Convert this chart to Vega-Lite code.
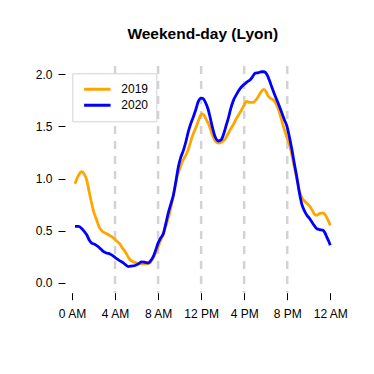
{
  "$schema": "https://vega.github.io/schema/vega-lite/v6.json",
  "autosize": "none",
  "width": 275.5,
  "height": 226.7,
  "padding": {"left": 65, "top": 66, "right": 33.5, "bottom": 81.3},
  "background": "white",
  "title": {"text": "Weekend-day (Lyon)", "fontSize": 15.5, "fontWeight": "bold", "font": "Liberation Sans", "color": "black", "offset": 22, "anchor": "middle"},
  "config": {
    "font": "Liberation Sans",
    "view": {"stroke": null},
    "axis": {"grid": false, "domain": false, "tickColor": "black", "tickWidth": 1, "tickSize": 7, "labelColor": "black", "labelFont": "Liberation Sans", "labelFontSize": 12, "title": null}
  },
  "layer": [
    {
      "data": {"values": [{"hour": 4}, {"hour": 8}, {"hour": 12}, {"hour": 16}, {"hour": 20}]},
      "mark": {"type": "rule", "color": "#D3D3D3", "strokeWidth": 2.5, "strokeDash": [8, 7]},
      "encoding": {"x": {"field": "hour", "type": "quantitative", "scale": {"domain": [-0.65, 24.95], "nice": false, "zero": false}}}
    },
    {
      "data": {"values": [
        {"hour": 0.28, "value": 0.95, "year": "2019"}, {"hour": 0.6, "value": 1.03, "year": "2019"}, {"hour": 0.9, "value": 1.065, "year": "2019"}, {"hour": 1.15, "value": 1.04, "year": "2019"}, {"hour": 1.37, "value": 0.985, "year": "2019"}, {"hour": 1.6, "value": 0.87, "year": "2019"}, {"hour": 1.83, "value": 0.76, "year": "2019"}, {"hour": 2.05, "value": 0.67, "year": "2019"}, {"hour": 2.3, "value": 0.6, "year": "2019"}, {"hour": 2.5, "value": 0.54, "year": "2019"}, {"hour": 2.76, "value": 0.5, "year": "2019"}, {"hour": 3.23, "value": 0.47, "year": "2019"}, {"hour": 3.55, "value": 0.45, "year": "2019"}, {"hour": 3.84, "value": 0.43, "year": "2019"}, {"hour": 4.15, "value": 0.4, "year": "2019"}, {"hour": 4.46, "value": 0.37, "year": "2019"}, {"hour": 4.7, "value": 0.33, "year": "2019"}, {"hour": 4.93, "value": 0.3, "year": "2019"}, {"hour": 5.15, "value": 0.26, "year": "2019"}, {"hour": 5.39, "value": 0.22, "year": "2019"}, {"hour": 5.7, "value": 0.2, "year": "2019"}, {"hour": 6.0, "value": 0.19, "year": "2019"}, {"hour": 6.3, "value": 0.18, "year": "2019"}, {"hour": 6.63, "value": 0.18, "year": "2019"}, {"hour": 6.95, "value": 0.18, "year": "2019"}, {"hour": 7.25, "value": 0.19, "year": "2019"}, {"hour": 7.5, "value": 0.23, "year": "2019"}, {"hour": 7.7, "value": 0.27, "year": "2019"}, {"hour": 7.95, "value": 0.33, "year": "2019"}, {"hour": 8.18, "value": 0.39, "year": "2019"}, {"hour": 8.5, "value": 0.48, "year": "2019"}, {"hour": 8.8, "value": 0.57, "year": "2019"}, {"hour": 9.05, "value": 0.66, "year": "2019"}, {"hour": 9.27, "value": 0.76, "year": "2019"}, {"hour": 9.5, "value": 0.88, "year": "2019"}, {"hour": 9.73, "value": 1.0, "year": "2019"}, {"hour": 10.0, "value": 1.09, "year": "2019"}, {"hour": 10.2, "value": 1.15, "year": "2019"}, {"hour": 10.45, "value": 1.2, "year": "2019"}, {"hour": 10.66, "value": 1.24, "year": "2019"}, {"hour": 10.9, "value": 1.31, "year": "2019"}, {"hour": 11.13, "value": 1.39, "year": "2019"}, {"hour": 11.35, "value": 1.45, "year": "2019"}, {"hour": 11.59, "value": 1.51, "year": "2019"}, {"hour": 11.8, "value": 1.57, "year": "2019"}, {"hour": 12.05, "value": 1.62, "year": "2019"}, {"hour": 12.25, "value": 1.61, "year": "2019"}, {"hour": 12.5, "value": 1.56, "year": "2019"}, {"hour": 12.75, "value": 1.51, "year": "2019"}, {"hour": 13.0, "value": 1.43, "year": "2019"}, {"hour": 13.2, "value": 1.38, "year": "2019"}, {"hour": 13.4, "value": 1.35, "year": "2019"}, {"hour": 13.6, "value": 1.34, "year": "2019"}, {"hour": 13.9, "value": 1.35, "year": "2019"}, {"hour": 14.2, "value": 1.375, "year": "2019"}, {"hour": 14.45, "value": 1.42, "year": "2019"}, {"hour": 14.68, "value": 1.465, "year": "2019"}, {"hour": 15.0, "value": 1.52, "year": "2019"}, {"hour": 15.3, "value": 1.58, "year": "2019"}, {"hour": 15.6, "value": 1.63, "year": "2019"}, {"hour": 15.92, "value": 1.69, "year": "2019"}, {"hour": 16.23, "value": 1.74, "year": "2019"}, {"hour": 16.5, "value": 1.73, "year": "2019"}, {"hour": 16.85, "value": 1.73, "year": "2019"}, {"hour": 17.05, "value": 1.75, "year": "2019"}, {"hour": 17.3, "value": 1.785, "year": "2019"}, {"hour": 17.55, "value": 1.83, "year": "2019"}, {"hour": 17.84, "value": 1.855, "year": "2019"}, {"hour": 18.05, "value": 1.83, "year": "2019"}, {"hour": 18.24, "value": 1.79, "year": "2019"}, {"hour": 18.45, "value": 1.77, "year": "2019"}, {"hour": 18.7, "value": 1.755, "year": "2019"}, {"hour": 18.95, "value": 1.72, "year": "2019"}, {"hour": 19.17, "value": 1.67, "year": "2019"}, {"hour": 19.4, "value": 1.59, "year": "2019"}, {"hour": 19.64, "value": 1.5, "year": "2019"}, {"hour": 19.95, "value": 1.4, "year": "2019"}, {"hour": 20.26, "value": 1.305, "year": "2019"}, {"hour": 20.5, "value": 1.19, "year": "2019"}, {"hour": 20.72, "value": 1.08, "year": "2019"}, {"hour": 20.95, "value": 0.97, "year": "2019"}, {"hour": 21.19, "value": 0.86, "year": "2019"}, {"hour": 21.4, "value": 0.81, "year": "2019"}, {"hour": 21.65, "value": 0.78, "year": "2019"}, {"hour": 21.9, "value": 0.755, "year": "2019"}, {"hour": 22.12, "value": 0.73, "year": "2019"}, {"hour": 22.35, "value": 0.69, "year": "2019"}, {"hour": 22.58, "value": 0.65, "year": "2019"}, {"hour": 22.8, "value": 0.65, "year": "2019"}, {"hour": 23.05, "value": 0.665, "year": "2019"}, {"hour": 23.25, "value": 0.67, "year": "2019"}, {"hour": 23.42, "value": 0.665, "year": "2019"}, {"hour": 23.7, "value": 0.62, "year": "2019"}, {"hour": 24.0, "value": 0.55, "year": "2019"},
        {"hour": 0.28, "value": 0.54, "year": "2020"}, {"hour": 0.6, "value": 0.54, "year": "2020"}, {"hour": 0.9, "value": 0.52, "year": "2020"}, {"hour": 1.15, "value": 0.49, "year": "2020"}, {"hour": 1.37, "value": 0.46, "year": "2020"}, {"hour": 1.6, "value": 0.41, "year": "2020"}, {"hour": 1.83, "value": 0.38, "year": "2020"}, {"hour": 2.1, "value": 0.37, "year": "2020"}, {"hour": 2.45, "value": 0.345, "year": "2020"}, {"hour": 2.7, "value": 0.32, "year": "2020"}, {"hour": 2.9, "value": 0.3, "year": "2020"}, {"hour": 3.2, "value": 0.285, "year": "2020"}, {"hour": 3.53, "value": 0.275, "year": "2020"}, {"hour": 3.85, "value": 0.255, "year": "2020"}, {"hour": 4.15, "value": 0.23, "year": "2020"}, {"hour": 4.45, "value": 0.21, "year": "2020"}, {"hour": 4.77, "value": 0.19, "year": "2020"}, {"hour": 5.0, "value": 0.17, "year": "2020"}, {"hour": 5.23, "value": 0.155, "year": "2020"}, {"hour": 5.55, "value": 0.16, "year": "2020"}, {"hour": 5.86, "value": 0.165, "year": "2020"}, {"hour": 6.15, "value": 0.18, "year": "2020"}, {"hour": 6.48, "value": 0.2, "year": "2020"}, {"hour": 6.8, "value": 0.195, "year": "2020"}, {"hour": 7.1, "value": 0.19, "year": "2020"}, {"hour": 7.3, "value": 0.21, "year": "2020"}, {"hour": 7.55, "value": 0.25, "year": "2020"}, {"hour": 7.8, "value": 0.32, "year": "2020"}, {"hour": 8.0, "value": 0.38, "year": "2020"}, {"hour": 8.25, "value": 0.43, "year": "2020"}, {"hour": 8.49, "value": 0.47, "year": "2020"}, {"hour": 8.7, "value": 0.56, "year": "2020"}, {"hour": 8.95, "value": 0.67, "year": "2020"}, {"hour": 9.2, "value": 0.76, "year": "2020"}, {"hour": 9.42, "value": 0.84, "year": "2020"}, {"hour": 9.65, "value": 0.97, "year": "2020"}, {"hour": 9.88, "value": 1.11, "year": "2020"}, {"hour": 10.1, "value": 1.2, "year": "2020"}, {"hour": 10.35, "value": 1.27, "year": "2020"}, {"hour": 10.6, "value": 1.36, "year": "2020"}, {"hour": 10.81, "value": 1.45, "year": "2020"}, {"hour": 11.05, "value": 1.53, "year": "2020"}, {"hour": 11.27, "value": 1.59, "year": "2020"}, {"hour": 11.5, "value": 1.66, "year": "2020"}, {"hour": 11.74, "value": 1.74, "year": "2020"}, {"hour": 11.95, "value": 1.77, "year": "2020"}, {"hour": 12.15, "value": 1.77, "year": "2020"}, {"hour": 12.4, "value": 1.73, "year": "2020"}, {"hour": 12.66, "value": 1.66, "year": "2020"}, {"hour": 12.85, "value": 1.58, "year": "2020"}, {"hour": 13.05, "value": 1.49, "year": "2020"}, {"hour": 13.3, "value": 1.4, "year": "2020"}, {"hour": 13.6, "value": 1.36, "year": "2020"}, {"hour": 13.85, "value": 1.37, "year": "2020"}, {"hour": 14.07, "value": 1.42, "year": "2020"}, {"hour": 14.3, "value": 1.5, "year": "2020"}, {"hour": 14.53, "value": 1.58, "year": "2020"}, {"hour": 14.75, "value": 1.67, "year": "2020"}, {"hour": 15.0, "value": 1.75, "year": "2020"}, {"hour": 15.3, "value": 1.81, "year": "2020"}, {"hour": 15.6, "value": 1.86, "year": "2020"}, {"hour": 15.85, "value": 1.89, "year": "2020"}, {"hour": 16.08, "value": 1.91, "year": "2020"}, {"hour": 16.3, "value": 1.93, "year": "2020"}, {"hour": 16.54, "value": 1.945, "year": "2020"}, {"hour": 16.8, "value": 1.98, "year": "2020"}, {"hour": 17.0, "value": 2.01, "year": "2020"}, {"hour": 17.3, "value": 2.015, "year": "2020"}, {"hour": 17.63, "value": 2.025, "year": "2020"}, {"hour": 17.85, "value": 2.025, "year": "2020"}, {"hour": 18.1, "value": 2.0, "year": "2020"}, {"hour": 18.35, "value": 1.94, "year": "2020"}, {"hour": 18.56, "value": 1.88, "year": "2020"}, {"hour": 18.85, "value": 1.8, "year": "2020"}, {"hour": 19.17, "value": 1.72, "year": "2020"}, {"hour": 19.5, "value": 1.63, "year": "2020"}, {"hour": 19.75, "value": 1.56, "year": "2020"}, {"hour": 19.95, "value": 1.51, "year": "2020"}, {"hour": 20.2, "value": 1.4, "year": "2020"}, {"hour": 20.41, "value": 1.29, "year": "2020"}, {"hour": 20.65, "value": 1.15, "year": "2020"}, {"hour": 20.88, "value": 1.02, "year": "2020"}, {"hour": 21.1, "value": 0.88, "year": "2020"}, {"hour": 21.34, "value": 0.76, "year": "2020"}, {"hour": 21.55, "value": 0.7, "year": "2020"}, {"hour": 21.81, "value": 0.65, "year": "2020"}, {"hour": 22.05, "value": 0.62, "year": "2020"}, {"hour": 22.27, "value": 0.585, "year": "2020"}, {"hour": 22.5, "value": 0.55, "year": "2020"}, {"hour": 22.74, "value": 0.52, "year": "2020"}, {"hour": 23.0, "value": 0.51, "year": "2020"}, {"hour": 23.3, "value": 0.505, "year": "2020"}, {"hour": 23.5, "value": 0.48, "year": "2020"}, {"hour": 23.67, "value": 0.44, "year": "2020"}, {"hour": 23.85, "value": 0.4, "year": "2020"}, {"hour": 24.0, "value": 0.36, "year": "2020"}
      ]},
      "mark": {"type": "line", "strokeWidth": 2.8, "interpolate": "monotone"},
      "encoding": {
        "x": {"field": "hour", "type": "quantitative", "scale": {"domain": [-0.65, 24.95], "nice": false, "zero": false},
              "axis": {"values": [0, 4, 8, 12, 16, 20, 24], "labelFlush": false, "labelOverlap": false, "labelPadding": 9,
                       "labelExpr": "datum.value == 0 ? '0 AM' : datum.value == 4 ? '4 AM' : datum.value == 8 ? '8 AM' : datum.value == 12 ? '12 PM' : datum.value == 16 ? '4 PM' : datum.value == 20 ? '8 PM' : '12 AM'"}},
        "y": {"field": "value", "type": "quantitative", "scale": {"domain": [-0.096, 2.08], "nice": false, "zero": false},
              "axis": {"values": [0, 0.5, 1, 1.5, 2], "format": ".1f", "labelPadding": 6}},
        "color": {"field": "year", "type": "nominal",
                  "scale": {"domain": ["2019", "2020"], "range": ["#FFA500", "#0000FF"]},
                  "legend": {"title": null, "orient": "none", "legendX": 7.3, "legendY": 7.3, "symbolType": "stroke", "symbolSize": 700, "symbolStrokeWidth": 3, "clipHeight": 16, "rowPadding": 0, "padding": 8, "symbolOffset": 2, "labelOffset": 9, "labelFontSize": 12, "labelColor": "black", "fillColor": "white", "strokeColor": "#D3D3D3", "cornerRadius": 0}}
      }
    },
    {
      "mark": {"type": "rule", "color": "black", "strokeWidth": 1, "clip": false},
      "encoding": {"x": {"datum": 0}, "x2": {"datum": 24}, "y": {"datum": -0.096}}
    },
    {
      "mark": {"type": "rule", "color": "black", "strokeWidth": 1, "clip": false},
      "encoding": {"x": {"datum": -0.65}, "y": {"datum": 0}, "y2": {"datum": 2}}
    }
  ]
}
